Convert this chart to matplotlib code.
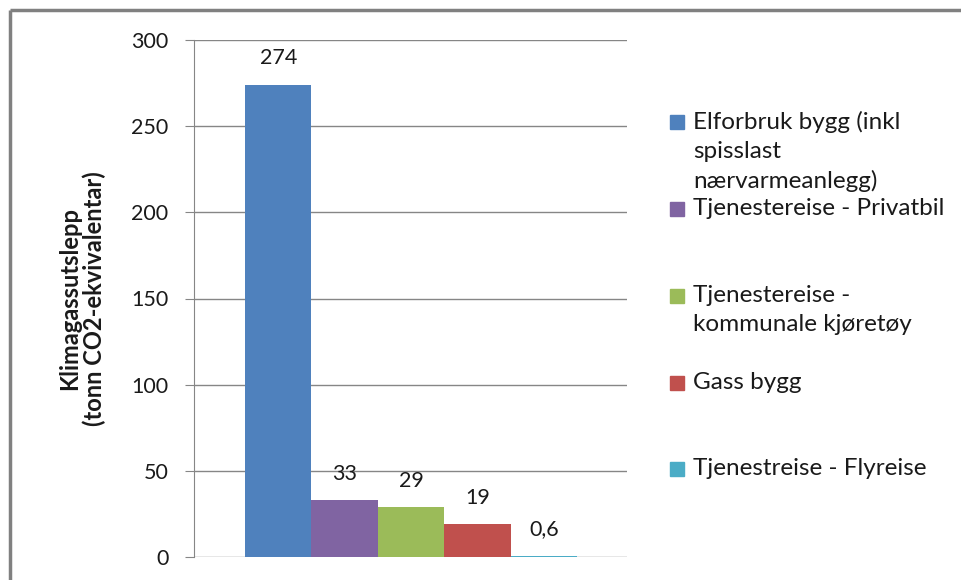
import matplotlib
matplotlib.use("Agg")
import matplotlib.pyplot as plt
from matplotlib.patches import Rectangle
from matplotlib.lines import Line2D

plt.rcParams['font.family'] = ['Lato', 'DejaVu Sans']

categories = [
    "Elforbruk bygg (inkl\nspisslast\nnærvarmeanlegg)",
    "Tjenestereise - Privatbil",
    "Tjenestereise -\nkommunale kjøretøy",
    "Gass bygg",
    "Tjenestreise - Flyreise",
]
values = [274, 33, 29, 19, 0.6]
value_labels = ["274", "33", "29", "19", "0,6"]
colors = ["#4F81BD", "#8064A2", "#9BBB59", "#C0504D", "#4BACC6"]
yticks = [0, 50, 100, 150, 200, 250, 300]

W, H = 962, 580
fig = plt.figure(figsize=(W / 100, H / 100), dpi=100)
ax = fig.add_axes([194 / W, 1 - 557 / H, (627 - 194) / W, (557 - 40) / H])

grid_c = "#868686"
txt_c = "#1a1a1a"
x = list(range(len(values)))
ax.bar(x, values, width=1.0, color=colors, zorder=3)
for xi, v, lab in zip(x, values, value_labels):
    ax.annotate(lab, (xi, v), xytext=(0, 19), textcoords="offset points",
                ha="center", va="center", fontsize=15.5, color=txt_c)

ax.set_ylim(0, 300)
ax.set_xlim(-1.268, 5.253)
ax.set_yticks(yticks)
ax.set_yticklabels([str(t) for t in yticks], fontsize=15.5, color=txt_c)
ax.set_xticks([])
ax.yaxis.grid(True, color=grid_c, linewidth=1, zorder=0)
for s in ["top", "right", "bottom"]:
    ax.spines[s].set_visible(False)
ax.spines["left"].set_color(grid_c)
ax.tick_params(axis="y", length=6.5, color=grid_c, pad=12)
ax.set_ylabel("Klimagassutslepp\n(tonn CO2-ekvivalentar)", fontsize=17,
              fontweight="bold", linespacing=1.05, color=txt_c)
ax.yaxis.set_label_coords((106 - 194) / (627 - 194), 0.5)

# legend entries, one per category
legend_y = [122, 209, 296, 383, 469]
for ly, lab, c in zip(legend_y, categories, colors):
    fig.patches.append(Rectangle((670 / W, 1 - (ly + 7) / H), 14 / W, 14 / H,
                                 transform=fig.transFigure, color=c))
    fig.text(693 / W, 1 - (ly - 11) / H, lab, ha="left", va="top",
             fontsize=17.5, linespacing=1.45, color=txt_c)

# outer frame (top and left edges)
fig.add_artist(Line2D([10 / W, 1], [1 - 10 / H, 1 - 10 / H], color="#808080",
                      linewidth=2.5, solid_capstyle="butt",
                      transform=fig.transFigure))
fig.add_artist(Line2D([10 / W, 10 / W], [0, 1 - 10 / H], color="#808080",
                      linewidth=2.5, solid_capstyle="butt",
                      transform=fig.transFigure))

fig.savefig("out.png", dpi=100)
